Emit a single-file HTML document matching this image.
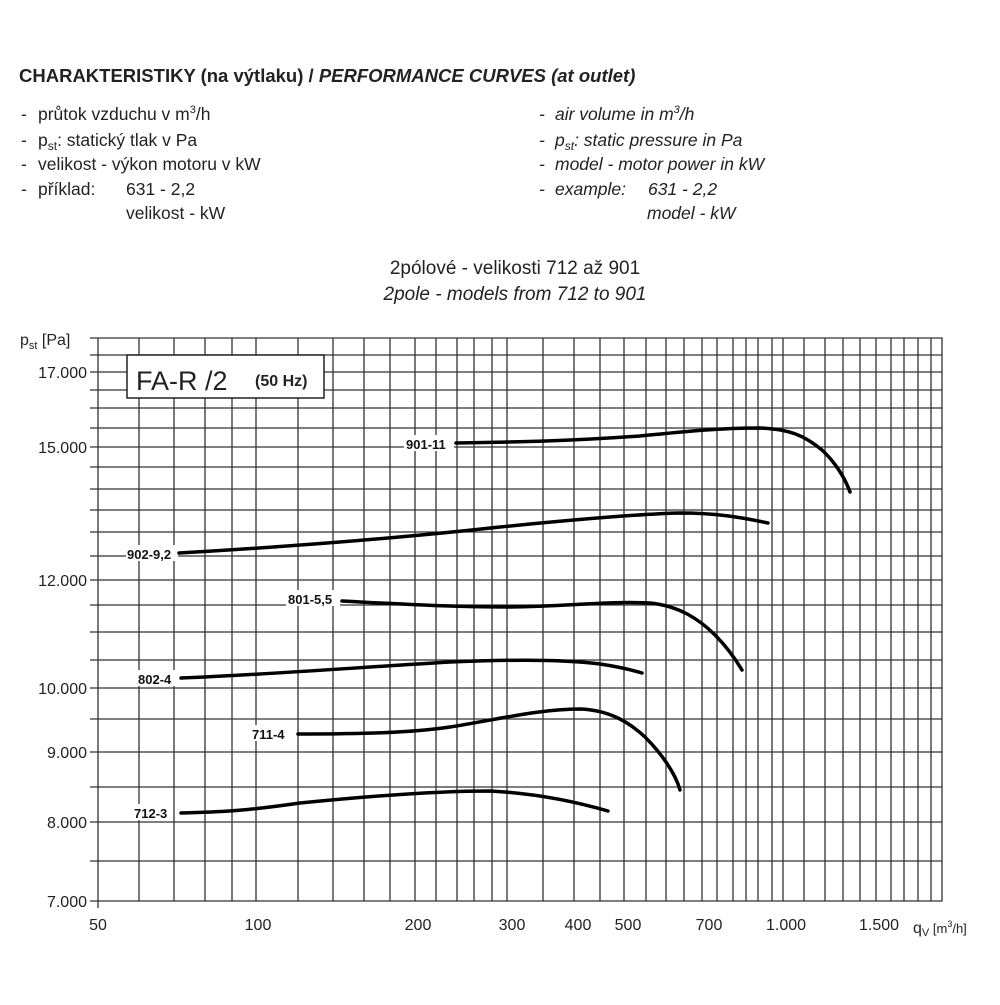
<!DOCTYPE html>
<html><head><meta charset="utf-8"><style>
body{margin:0;background:#fff;}
svg text{font-family:"Liberation Sans",Arial,sans-serif;}
</style></head><body>
<svg width="1000" height="1000" viewBox="0 0 1000 1000" xmlns="http://www.w3.org/2000/svg">
<rect width="1000" height="1000" fill="#fff"/>
<text x="19" y="82" font-size="18.5" font-weight="bold" fill="#222">CHARAKTERISTIKY (na výtlaku) / <tspan font-style="italic">PERFORMANCE CURVES (at outlet)</tspan></text>
<g font-size="17.5" fill="#222">
<text x="21" y="120">-</text><text x="21" y="146">-</text><text x="21" y="170">-</text><text x="21" y="195">-</text>
<text x="38" y="120">průtok vzduchu v m<tspan font-size="11" dy="-7">3</tspan><tspan dy="7">/h</tspan></text>
<text x="38" y="146">p<tspan font-size="12" dy="4">st</tspan><tspan dy="-4">: statický tlak v Pa</tspan></text>
<text x="38" y="170">velikost - výkon motoru v kW</text>
<text x="38" y="195">příklad:</text><text x="126" y="195">631 - 2,2</text>
<text x="126" y="219">velikost - kW</text>
<g font-style="italic">
<text x="539" y="120">-</text><text x="539" y="146">-</text><text x="539" y="170">-</text><text x="539" y="195">-</text>
<text x="555" y="120">air volume in m<tspan font-size="11" dy="-7">3</tspan><tspan dy="7">/h</tspan></text>
<text x="555" y="146">p<tspan font-size="12" dy="4">st</tspan><tspan dy="-4">: static pressure in Pa</tspan></text>
<text x="555" y="170">model - motor power in kW</text>
<text x="555" y="195">example:</text><text x="648" y="195">631 - 2,2</text>
<text x="647" y="219">model - kW</text>
</g>
</g>
<text x="515" y="274" font-size="19" text-anchor="middle" fill="#222">2pólové - velikosti 712 až 901</text>
<text x="515" y="300" font-size="19" font-style="italic" text-anchor="middle" fill="#222">2pole - models from 712 to 901</text>

<g stroke="#333" stroke-width="1.3" fill="none">
<path d="M139 338V901M174 338V901M205 338V901M232 338V901M256 338V901M298 338V901M333 338V901M364 338V901M390 338V901M415 338V901M436 338V901M457 338V901M474 338V901M492 338V901M507 338V901M543 338V901M574 338V901M600 338V901M624 338V901M646 338V901M666 338V901M684 338V901M702 338V901M717 338V901M733 338V901M746 338V901M758 338V901M772 338V901M783 338V901M804 338V901M825 338V901M843 338V901M860 338V901M876 338V901M891 338V901M904 338V901M918 338V901M931 338V901"/>
<path d="M90 355H942M90 372H942M90 390H942M90 408H942M90 428H942M90 447H942M90 467H942M90 489H942M90 510H942M90 532H942M90 556H942M90 580H942M90 605H942M90 632H942M90 660H942M90 688H942M90 719H942M90 752H942M90 787H942M90 822H942M90 861H942"/>
<path d="M90 338H942V901H90M98 338V908"/>
</g>
<g font-size="16" fill="#222" text-anchor="end">
<text x="87" y="378">17.000</text><text x="87" y="453">15.000</text><text x="87" y="586">12.000</text>
<text x="87" y="694">10.000</text><text x="87" y="758">9.000</text><text x="87" y="828">8.000</text><text x="87" y="907">7.000</text>
</g>
<g font-size="16" fill="#222" text-anchor="middle">
<text x="98" y="930">50</text><text x="258" y="930">100</text><text x="418" y="930">200</text><text x="512" y="930">300</text>
<text x="578" y="930">400</text><text x="628" y="930">500</text><text x="709" y="930">700</text><text x="786" y="930">1.000</text><text x="879" y="930">1.500</text>
</g>
<text x="913" y="933" font-size="16" fill="#222">q<tspan font-size="11" dy="3">V</tspan><tspan font-size="13" dy="-3"> [m</tspan><tspan font-size="9" dy="-6">3</tspan><tspan font-size="13" dy="6">/h]</tspan></text>
<text x="20" y="345" font-size="16" fill="#222">p<tspan font-size="11" dy="4">st</tspan><tspan dy="-4"> [Pa]</tspan></text>

<rect x="127" y="355" width="197" height="43" fill="#fff" stroke="#222" stroke-width="1.5"/>
<text x="136" y="390" font-size="27" fill="#222">FA-R /2</text>
<text x="255" y="386" font-size="16" font-weight="bold" fill="#222">(50 Hz)</text>

<g font-size="13" font-weight="bold" fill="#111">
<rect x="404" y="435" width="50" height="16" fill="#fff"/><text x="406" y="449">901-11</text>
<rect x="126" y="545" width="52" height="16" fill="#fff"/><text x="127" y="559">902-9,2</text>
<rect x="286" y="590" width="54" height="16" fill="#fff"/><text x="288" y="604">801-5,5</text>
<rect x="137" y="670" width="40" height="16" fill="#fff"/><text x="138" y="684">802-4</text>
<rect x="251" y="725" width="42" height="16" fill="#fff"/><text x="252" y="739">711-4</text>
<rect x="133" y="804" width="40" height="16" fill="#fff"/><text x="134" y="818">712-3</text>
</g>
<g stroke="#000" stroke-width="3.5" fill="none" stroke-linecap="round" stroke-linejoin="round">
<path d="M456 443 C520 442 570 441 640 436 C690 431 720 428 760 428 C790 429 805 436 822 450 C835 462 845 478 850 492"/>
<path d="M179 553 C300 546 400 538 500 527 C570 520 640 514 680 513 C715 513 740 517 768 523"/>
<path d="M342 601 C400 604 450 607 510 607 C570 606 610 601 650 603 C680 606 700 620 715 635 C728 648 736 660 742 670"/>
<path d="M181 678 C260 675 350 668 450 662 C520 659 570 660 600 664 C620 667 632 670 642 673"/>
<path d="M298 734 C360 734 410 733 450 727 C500 719 540 709 580 709 C610 710 630 723 645 737 C660 752 675 772 680 790"/>
<path d="M181 813 C220 812 245 811 300 803 C380 795 440 791 490 791 C530 793 570 800 608 811"/>
</g>
</svg>
</body></html>
